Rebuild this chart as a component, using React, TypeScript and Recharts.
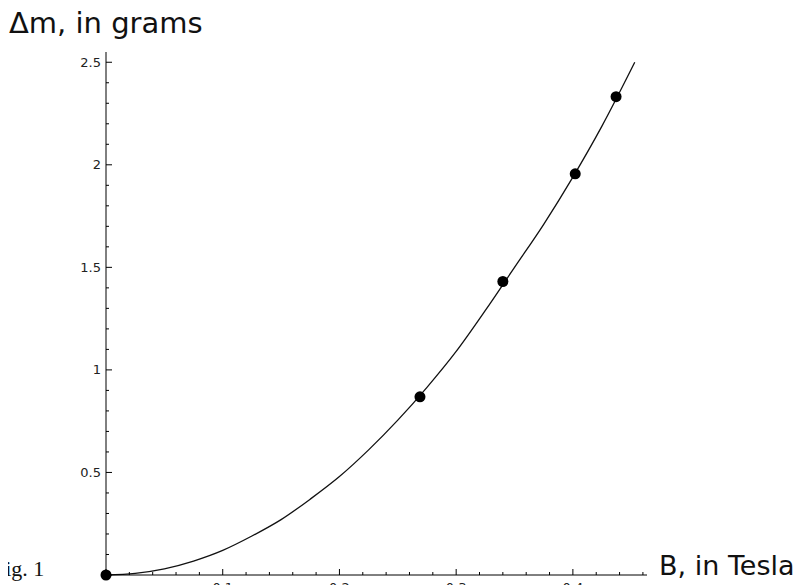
import React from 'react'

//* Recharts
import { ComposedChart, Line, Scatter, XAxis, YAxis } from 'recharts'

// fitted curve
const curveB = [0, 0.025, 0.05, 0.075, 0.1, 0.125, 0.15, 0.175, 0.2, 0.225, 0.25, 0.275, 0.3, 0.325, 0.35, 0.375, 0.4, 0.425, 0.453]
const curveM = [0, 0.008, 0.03, 0.068, 0.12, 0.19, 0.27, 0.37, 0.48, 0.61, 0.755, 0.915, 1.09, 1.29, 1.5, 1.71, 1.94, 2.19, 2.5]

// measured points
const pointB = [0, 0.269, 0.34, 0.402, 0.437]
const pointM = [0, 0.869, 1.431, 1.956, 2.332]

const xTicks = [0, 0.02, 0.04, 0.06, 0.08, 0.1, 0.12, 0.14, 0.16, 0.18, 0.2, 0.22, 0.24, 0.26, 0.28, 0.3, 0.32, 0.34, 0.36, 0.38, 0.4, 0.42, 0.44, 0.46]
const yTicks = [0, 0.1, 0.2, 0.3, 0.4, 0.5, 0.6, 0.7, 0.8, 0.9, 1, 1.1, 1.2, 1.3, 1.4, 1.5, 1.6, 1.7, 1.8, 1.9, 2, 2.1, 2.2, 2.3, 2.4, 2.5]

const xLabel = 'B, in Tesla'
const yLabel = '\u0394m, in grams'
const figLabel = 'Fig. 1'

const curve = curveB.map((b, i) => ({ b, m: curveM[i] }))
const points = pointB.map((b, i) => ({ b, m: pointM[i] }))

const W = 796
const H = 620
const FONT = '"DejaVu Sans", sans-serif'

const isMajor = (v: number, step: number) => Math.abs(v / step - Math.round(v / step)) < 1e-6
const fmt = (v: number) => String(Math.round(v * 10) / 10)

const XTick = (props: any) => {
    const { x, y, payload } = props
    const v = payload.value
    const major = isMajor(v, 0.1)
    return (
        <g>
            <line x1={x} x2={x} y1={y} y2={y - (major ? 6 : 3)} stroke="#000" strokeWidth={1} />
            {major && v !== 0 && (
                <text x={x} y={y + 17} textAnchor="middle" fontSize={13} fontFamily={FONT} fill="#222">{fmt(v)}</text>
            )}
        </g>
    )
}

const YTick = (props: any) => {
    const { x, y, payload } = props
    const v = payload.value
    const major = isMajor(v, 0.5)
    return (
        <g>
            <line x1={x} x2={x + (major ? 6 : 3)} y1={y} y2={y} stroke="#000" strokeWidth={1} />
            {major && v !== 0 && (
                <text x={x - 5} y={y + 4.5} textAnchor="end" fontSize={13} fontFamily={FONT} fill="#222">{fmt(v)}</text>
            )}
        </g>
    )
}

function App() {
    return (
        <div style={{ position: 'relative', width: W, height: H }}>
            <ComposedChart width={W} height={H} margin={{ top: 44, right: 157, bottom: 23, left: 38 }}>
                <XAxis
                    type="number"
                    dataKey="b"
                    domain={[0, 0.4635]}
                    ticks={xTicks}
                    interval={0}
                    tickSize={0}
                    tickMargin={0}
                    tickLine={false}
                    tick={<XTick />}
                    height={30}
                    axisLine={{ stroke: '#000', strokeWidth: 1 }}
                />
                <YAxis
                    type="number"
                    dataKey="m"
                    domain={[0, 2.55]}
                    ticks={yTicks}
                    interval={0}
                    tickSize={0}
                    tickMargin={0}
                    tickLine={false}
                    tick={<YTick />}
                    width={60}
                    axisLine={{ stroke: '#000', strokeWidth: 1 }}
                />
                <Line data={curve} dataKey="m" type="monotone" stroke="#111" strokeWidth={1.3} dot={false} isAnimationActive={false} />
                <Scatter
                    data={points}
                    dataKey="m"
                    fill="#000"
                    isAnimationActive={false}
                    shape={(p: any) => <circle cx={p.cx} cy={p.cy} r={5.5} fill="#000" />}
                />
            </ComposedChart>
            {/* overlay in page coordinates (body margin is 8px) */}
            <svg width={804} height={600} style={{ position: 'absolute', left: -8, top: -8, pointerEvents: 'none' }}>
                <text x={9} y={33} fontSize={29} fontFamily={FONT} fill="#111">{yLabel}</text>
                <text x={659} y={575} fontSize={27} fontFamily={FONT} fill="#111">{xLabel}</text>
                <text x={-7} y={576} fontSize={22} fontFamily='"Liberation Serif", serif' fill="#111">{figLabel}</text>
            </svg>
        </div>
    )
}

export default App
